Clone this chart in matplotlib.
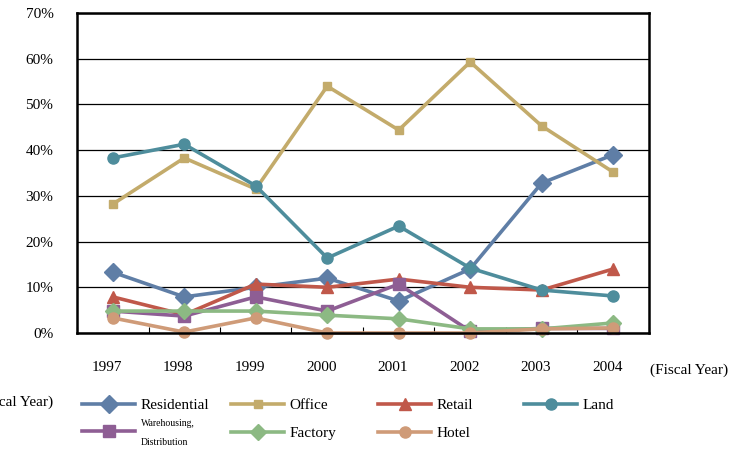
import matplotlib.pyplot as plt
import matplotlib.transforms as mtransforms
import numpy as np

plt.rcParams['font.family'] = ['Liberation Serif', 'DejaVu Serif']

years = ['1997', '1998', '1999', '2000', '2001', '2002', '2003', '2004']

residential = [13.3, 7.9, 10.0, 12.0, 7.0, 14.0, 32.8, 39.0]
office = [28.2, 38.3, 31.5, 54.0, 44.4, 59.3, 45.3, 35.2]
retail = [7.9, 4.0, 10.7, 10.0, 11.8, 10.0, 9.4, 14.0]
land = [38.3, 41.3, 32.2, 16.4, 23.4, 14.2, 9.4, 8.1]
warehousing = [4.8, 3.7, 7.9, 4.8, 10.7, 0.4, 1.0, 1.0]
factory = [4.8, 4.8, 4.8, 3.9, 3.1, 0.9, 0.9, 2.2]
hotel = [3.3, 0.2, 3.3, 0.0, 0.0, 0.0, 0.9, 1.1]

series = [
    ('Residential', residential, '#5f7ea6', 'D', 9),
    ('Office', office, '#c3ab6b', 's', 6),
    ('Retail', retail, '#c0584a', '^', 9),
    ('Land', land, '#4e8d9c', 'o', 8),
    ('Warehousing,\nDistribution', warehousing, '#8e5e94', 's', 8),
    ('Factory', factory, '#8cb983', 'D', 8),
    ('Hotel', hotel, '#cf9b78', 'o', 8),
]

W, H = 737, 450
fig = plt.figure(figsize=(W / 100, H / 100), dpi=100)
ax = fig.add_axes([0.1045, 0.26, 0.776, 0.711])

x = np.arange(len(years))
handles = []
for name, vals, color, marker, ms in series:
    h, = ax.plot(x, vals, color=color, marker=marker, markersize=ms,
                 linewidth=2.6, clip_on=False)
    handles.append(h)

ax.set_xlim(-0.5, len(years) - 0.5)
ax.set_ylim(0, 70)
ax.set_yticks(np.arange(0, 71, 10))
ax.set_yticklabels([f'{v}%' for v in range(0, 71, 10)], fontsize=11)
ax.yaxis.grid(True, color='black', linewidth=0.9)
ax.set_axisbelow(True)
ax.tick_params(axis='y', length=0, pad=17)

# category boundaries carry the tick marks, labels sit in between
ax.set_xticks(np.arange(-0.5, len(years), 1.0))
ax.set_xticklabels([])
ax.set_xticks(x, minor=True)
ax.set_xticklabels(years, minor=True, fontsize=11)
ax.tick_params(axis='x', which='major', direction='in', length=4, width=0.8)
ax.tick_params(axis='x', which='minor', length=0, pad=20)
shift = mtransforms.ScaledTranslation(-6 / 100, 0, fig.dpi_scale_trans)
for lbl in ax.get_xticklabels(minor=True):
    lbl.set_transform(lbl.get_transform() + shift)

for s in ax.spines.values():
    s.set_linewidth(1.8)
    s.set_color('black')

fig.text(650 / W, 1 - 370 / H, '(Fiscal Year)', fontsize=11, ha='left', va='center')
fig.text(53 / W, 1 - 402 / H, '(Fiscal Year)', fontsize=11, ha='right', va='center')

# legend entries on a fixed grid: 4 columns, 2 rows
col_x = [82, 231, 378, 524]
row_y = [405, 433]
slots = [(0, 0), (1, 0), (2, 0), (3, 0), (0, 1), (1, 1), (2, 1)]
for (name, *_), h, (c, r) in zip(series, handles, slots):
    leg = fig.legend([h], [name], loc='center left',
                     bbox_to_anchor=(col_x[c] / W, 1 - row_y[r] / H),
                     frameon=False, fontsize=11, handlelength=3.5,
                     handletextpad=0.35, borderpad=0, borderaxespad=0)
    t = leg.get_texts()[0]
    if name.startswith('Warehousing'):
        t.set_fontsize(7)
        t.set_linespacing(2.3)

fig.savefig('out.png', dpi=100)
